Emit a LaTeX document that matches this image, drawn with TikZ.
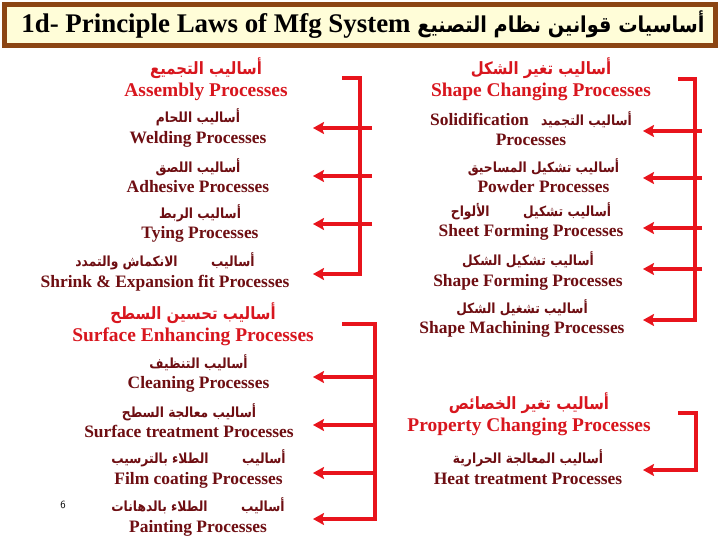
\documentclass[tikz,border=0pt]{standalone}
\usepackage{fontspec}
\setmainfont{Liberation Serif}
\newfontfamily\arfont[Script=Arabic, FakeStretch=0.88]{DejaVu Sans}
\usetikzlibrary{arrows.meta}
\TeXXeTstate=1
\definecolor{hred}{HTML}{D8161E}
\definecolor{maroon}{HTML}{6E0E12}
\definecolor{lred}{HTML}{E8141C}
\definecolor{tborder}{HTML}{8B4513}
\definecolor{tfill}{HTML}{FFFDD8}
\newcommand\arx[2][14]{{\arfont\bfseries\fontsize{#1}{20}\selectfont\beginR #2\endR}}
\tikzset{
  head/.style={align=center, text=hred, font=\fontsize{19.5}{22}\selectfont\bfseries, inner sep=0pt},
  item/.style={align=center, text=maroon, font=\fontsize{17.5}{20.5}\selectfont\bfseries, inner sep=0pt},
  brk/.style={draw=lred, line width=4bp},
  arr/.style={draw=lred, line width=4bp, -{Stealth[length=11bp,width=12bp,inset=2bp]}},
}
\begin{document}
\begin{tikzpicture}[x=1bp,y=-1bp]
\useasboundingbox (0,0) rectangle (720,540);
\fill[white] (0,0) rectangle (720,540);
% title
\node[draw=tborder, line width=5bp, fill=tfill, minimum width=711bp, minimum height=41bp, inner sep=0pt] (title) at (360,25) {};
\node[font=\fontsize{27}{30}\selectfont\bfseries, inner sep=0pt] (ttl) at (363,25)
  {1d- Principle Laws of Mfg System \arx[22]{أساسيات قوانين نظام التصنيع}};

% left upper group
\node[head] (asm) at (206,79) {\arx[17]{أساليب التجميع}\\Assembly Processes};
\node[item] (weld) at (198,128) {\arx{أساليب اللحام}\\Welding Processes};
\node[item] (adh) at (198,175.5) {\arx{أساليب اللصق}\\Adhesive Processes};
\node[item] (tie) at (200,223.5) {\arx{أساليب الربط}\\Tying Processes};
\node[item] (shr) at (165,272) {\arx{أساليب\hspace{2.4em}الانكماش والتمدد}\\Shrink \& Expansion fit Processes};

% left lower group
\node[head] (sur) at (193,324.5) {\arx[17]{أساليب تحسين السطح}\\Surface Enhancing Processes};
\node[item] (cln) at (198.5,373.5) {\arx{أساليب التنظيف}\\Cleaning Processes};
\node[item] (str) at (189,420.5) {\arx{أساليب معالجة السطح}\\Surface treatment Processes};
\node[item] (film) at (198.5,469) {\arx{أساليب\hspace{2.4em}الطلاء بالترسيب}\\Film coating Processes};
\node[item] (pnt) at (198,517) {\arx{أساليب\hspace{2.4em}الطلاء بالدهانات}\\Painting Processes};
\node[font=\sffamily\fontsize{11}{13}\selectfont] (pg) at (63,505) {6};

% right upper group
\node[head] (shp) at (541,79) {\arx[17]{أساليب تغير الشكل}\\Shape Changing Processes};
\node[item] (sol) at (531,128.5) {Solidification\hspace{0.7em}\arx{أساليب التجميد}\\Processes};
\node[item] (pow) at (543.5,175.5) {\arx{أساليب تشكيل المساحيق}\\Powder Processes};
\node[item] (sht) at (531,221.5) {\arx{أساليب تشكيل\hspace{2.4em}الألواح}\\Sheet Forming Processes};
\node[item] (frm) at (528,271) {\arx{أساليب تشكيل الشكل}\\Shape Forming Processes};
\node[item] (mch) at (522,318.5) {\arx{أساليب تشغيل الشكل}\\Shape Machining Processes};

% right lower group
\node[head] (prp) at (529,414) {\arx[17]{أساليب تغير الخصائص}\\Property Changing Processes};
\node[item] (heat) at (528,467) {\arx{أساليب المعالجة الحرارية}\\Heat treatment Processes};

% bracket A
\coordinate (aTop) at (342,78);
\coordinate (aSp) at (360,78);
\coordinate (aW) at (313,128);
\coordinate (aA) at (313,176);
\coordinate (aT) at (313,224);
\coordinate (aS) at (313,274);
\draw[arr] (aTop) -- (aSp) |- (aS);
\foreach \t in {aW,aA,aT} \draw[arr] ([xshift=12bp]aSp |- \t) -- (\t);

% bracket B
\coordinate (bTop) at (342,324);
\coordinate (bSp) at (375,324);
\coordinate (bC) at (313,377);
\coordinate (bS) at (313,425);
\coordinate (bF) at (313,473);
\coordinate (bP) at (313,519);
\draw[arr] (bTop) -- (bSp) |- (bP);
\foreach \t in {bC,bS,bF} \draw[arr] (bSp |- \t) -- (\t);

% bracket C
\coordinate (cTop) at (678,79);
\coordinate (cSp) at (695,79);
\coordinate (cS) at (643,131);
\coordinate (cP) at (643,178);
\coordinate (cH) at (643,228);
\coordinate (cF) at (643,269);
\coordinate (cM) at (643,320);
\draw[arr] (cTop) -- (cSp) |- (cM);
\foreach \t in {cS,cP,cH,cF} \draw[arr] ([xshift=7bp]cSp |- \t) -- (\t);

% bracket D
\coordinate (dTop) at (678,413);
\coordinate (dSp) at (696,413);
\coordinate (dH) at (643,470);
\draw[arr] (dTop) -- (dSp) |- (dH);
\end{tikzpicture}
\end{document}
